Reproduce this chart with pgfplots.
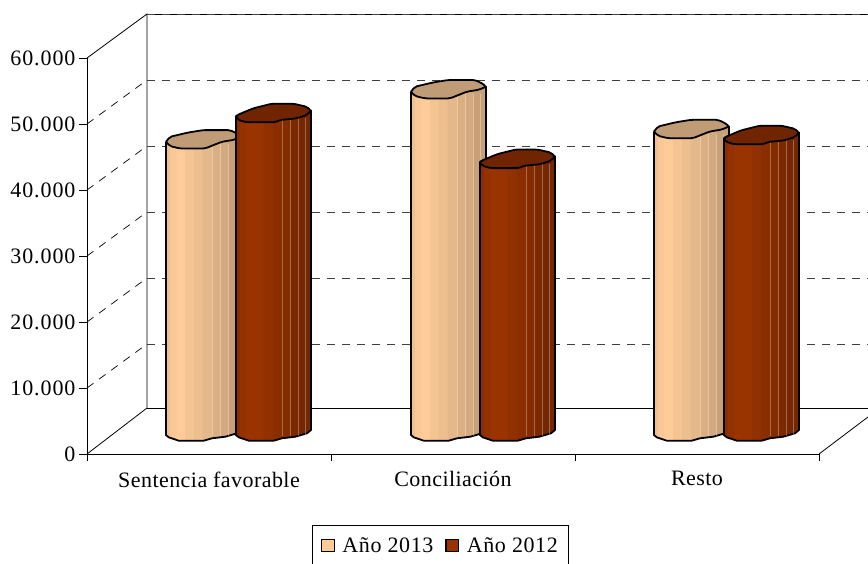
\documentclass[border=0pt]{standalone}
\usepackage{fontspec}
\usepackage{pgfplots}
\usepackage{pgfplotstable}
\pgfplotsset{compat=1.18}
\setmainfont{Liberation Serif}
\newfontfamily\xfont[LetterSpace=2]{Liberation Serif}
\newfontfamily\yfont[LetterSpace=4.2]{Liberation Serif}
\newfontfamily\legfont[LetterSpace=2.8]{Liberation Serif}

\definecolor{peach}{HTML}{FFCC99}
\definecolor{rust}{HTML}{993300}
\definecolor{peachtop}{HTML}{C09C76}
\definecolor{rusttop}{HTML}{702500}
\definecolor{griddash}{HTML}{404040}

\pgfdeclarehorizontalshading{lightbar}{100bp}{
  color(0bp)=(peach!94!black);color(27bp)=(peach!94!black);
  color(27.3bp)=(peach!98!black);color(31.6bp)=(peach!98!black);
  color(31.7bp)=(peach);color(37bp)=(peach);
  color(37.1bp)=(peach!96!black);color(43bp)=(peach!96!black);
  color(43.1bp)=(peach!93!black);color(49bp)=(peach!93!black);
  color(49.1bp)=(peach!90!black);color(55.6bp)=(peach!90!black);
  color(55.7bp)=(peach!86!black);color(61bp)=(peach!86!black);
  color(61.1bp)=(peach!83!black);color(66.3bp)=(peach!83!black);
  color(66.4bp)=(peach!79!black);color(100bp)=(peach!79!black)}
\pgfdeclarehorizontalshading{darkbar}{100bp}{
  color(0bp)=(rust!90!black);color(27bp)=(rust!90!black);
  color(27.3bp)=(rust!97!black);color(31.6bp)=(rust!97!black);
  color(31.7bp)=(rust);color(43bp)=(rust);
  color(43.1bp)=(rust!95!black);color(49bp)=(rust!95!black);
  color(49.1bp)=(rust!90!black);color(55.6bp)=(rust!90!black);
  color(55.7bp)=(rust!86!black);color(61bp)=(rust!86!black);
  color(61.1bp)=(rust!81!black);color(66.3bp)=(rust!81!black);
  color(66.4bp)=(rust!76!black);color(100bp)=(rust!76!black)}

% cylinder outline: u = px from bar's left side, v = px down from the ring centre, t = 1 for top ring
\pgfplotstableread{
u    v     t
0    2.5   1
75   -2.5  1
75   -1    0
71   2.3   0
59.3 5.7   0
46   7.3   0
37.7 9.7   0
12.7 9.7   0
2.7  6.3   0
0    4     0
0    2.5   1
}\bodyshape
\pgfplotstableread{
u    v
0    2.5
4    -2.5
22.3 -6.8
37.3 -9.2
64   -9.2
72.3 -5.2
75   -2.5
68   0.5
55.7 2.5
39   9.2
14   9.2
4    6.8
0    2.5
}\lighttop
\pgfplotstableread{
u    v
0    3.7
1.3  2
17.3 -4.7
35.7 -9.3
57.3 -9.3
70.7 -6.3
75   -2.3
70.7 2
60.7 5.3
44   7
39   9.3
10.7 9.3
2.3  7
0    3.7
}\darktop
\pgfplotstableread{
t s
0 0
1 0
}\streak

% #1 left px, #2 value, #3 shading, #4 top colour, #5 top shape
\newcommand\cyl[5]{
  \addplot[forget plot, draw=black, line width=1.8pt, line join=round, shading=#3]
    table[x expr=#1+\thisrow{u}, y expr=\thisrow{t}*#2+3485-\thisrow{v}*151.515] {\bodyshape};
  \streaks{#1}{#2}{46}
  \streaks{#1}{#2}{54}
  \streaks{#1}{#2}{62}
  \streaks{#1}{#2}{69}
  \addplot[forget plot, draw=black, line width=1.8pt, line join=round, rounded corners=2pt, fill=#4]
    table[x expr=#1+\thisrow{u}, y expr=#2+3485-\thisrow{v}*151.515] {#5};
}
\newcommand\streaks[3]{
  \addplot[forget plot, draw=white, opacity=0.3, line width=0.7pt]
    table[x expr=#1+#3, y expr=\thisrow{t}*#2+2700] {\streak};
}

\begin{document}
\begin{tikzpicture}
\useasboundingbox (-87pt,-109pt) rectangle (781pt,454pt);
\clip (-87pt,-109pt) rectangle (781pt,454pt);
\begin{axis}[
    at={(0pt,0pt)}, anchor=origin,
    scale only axis,
    width=732pt, height=396pt,
    xmin=87, xmax=819,
    ymin=0, ymax=60000,
    clip=false,
    axis x line*=bottom,
    axis y line*=left,
    axis line style={-, line width=0.8pt},
    tick align=outside,
    tick style={black, line width=0.8pt},
    major tick length=8pt,
    minor tick length=7pt,
    xtick={209,453,697},
    xticklabels={Sentencia favorable,Conciliación,Resto},
    minor xtick={87,331,575,819},
    major x tick style={draw=none},
    ytick={0,10000,20000,30000,40000,50000,60000},
    scaled y ticks=false,
    yticklabel style={font=\fontsize{22}{24}\yfont, /pgf/number format/.cd, 1000 sep={.}, assume math mode=true},
    xticklabel style={font=\fontsize{22}{24}\xfont, yshift=-6pt},
    legend columns=2,
    legend cell align=left,
    legend image code/.code={\draw[#1] (0pt,-6pt) rectangle (12.5pt,6pt); \path (18pt,0pt);},
    legend style={
        at={(0.4829,-0.1793)}, anchor=north,
        draw=black, line width=0.8pt,
        font=\fontsize{22}{24}\legfont,
        inner xsep=9pt, inner ysep=10pt,
        /tikz/every even column/.append style={column sep=10pt}
    }
]

% walls and floor
\addplot[forget plot, black, line width=0.8pt] coordinates {(87,60000) (147,66667) (147,6970) (87,0)};
\addplot[forget plot, black, line width=0.8pt] coordinates {(147,6970) (868,6970)};
\addplot[forget plot, black, line width=0.8pt] coordinates {(819,0) (868,5606)};
\addplot[forget plot, black, line width=0.8pt] coordinates {(147,66667) (868,66667)};

% dashed grid, back wall
\pgfplotsinvokeforeach{16667,26667,36667,46667,56667,66667}{
  \addplot[forget plot, griddash, line width=0.8pt, dash pattern=on 8pt off 7pt] coordinates {(147,#1) (868,#1)};
}
% dashed grid, side wall
\addplot[forget plot, black, line width=0.7pt, dash pattern=on 8pt off 7pt] coordinates {(87,10000) (147,16667)};
\addplot[forget plot, black, line width=0.7pt, dash pattern=on 8pt off 7pt] coordinates {(87,20000) (147,26667)};
\addplot[forget plot, black, line width=0.7pt, dash pattern=on 8pt off 7pt] coordinates {(87,30000) (147,36667)};
\addplot[forget plot, black, line width=0.7pt, dash pattern=on 8pt off 7pt] coordinates {(87,40000) (147,46667)};
\addplot[forget plot, black, line width=0.7pt, dash pattern=on 8pt off 7pt] coordinates {(87,50000) (147,56667)};

% bars: left px, value
\cyl{166}{44197}{lightbar}{peachtop}{\lighttop}
\cyl{236}{48182}{darkbar}{rusttop}{\darktop}
\cyl{411}{51788}{lightbar}{peachtop}{\lighttop}
\cyl{480}{41242}{darkbar}{rusttop}{\darktop}
\cyl{654}{45758}{lightbar}{peachtop}{\lighttop}
\cyl{724}{44848}{darkbar}{rusttop}{\darktop}

\addlegendimage{draw=black, fill=peach, line width=1.3pt}
\addlegendentry{Año 2013}
\addlegendimage{draw=black, fill=rust, line width=1.3pt}
\addlegendentry{Año 2012}

\end{axis}
\end{tikzpicture}
\end{document}
